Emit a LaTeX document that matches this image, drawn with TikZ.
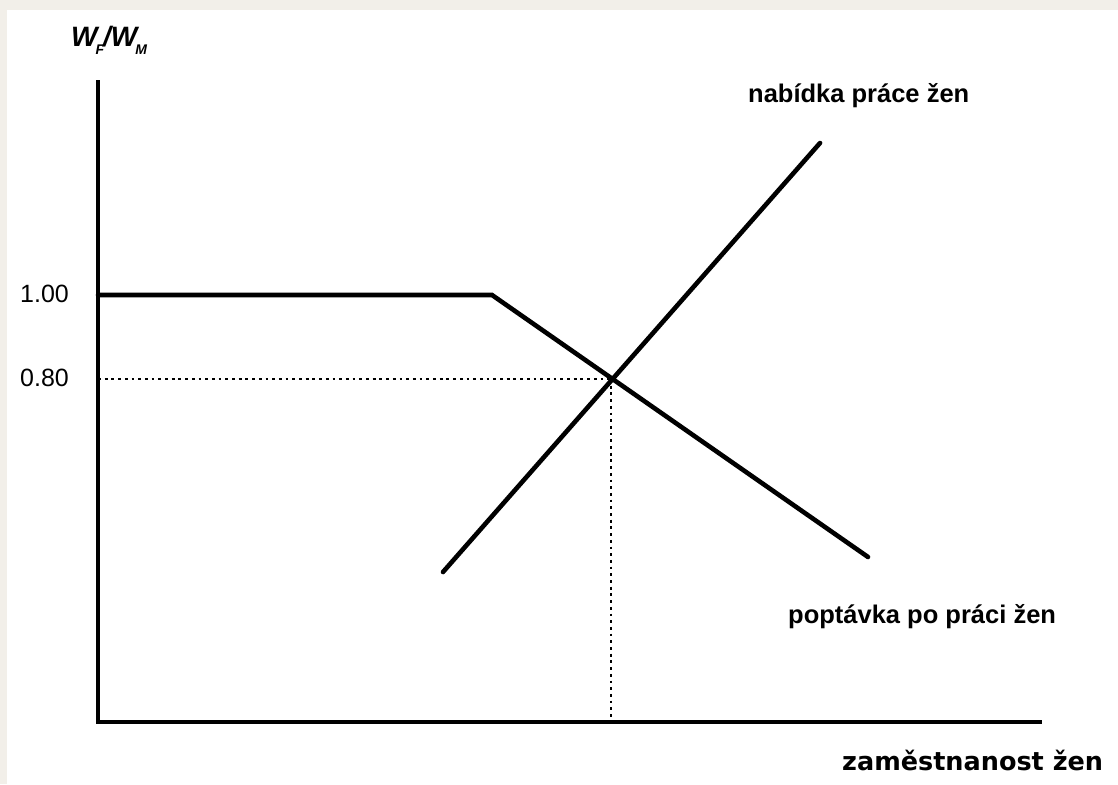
\documentclass[tikz,border=0pt]{standalone}
\usepackage{fontspec}
\setmainfont{Liberation Sans}
\newfontfamily\axisfont{DejaVu Sans}
\definecolor{bgbeige}{HTML}{F2EFE9}
\begin{document}
\begin{tikzpicture}[x=1pt,y=-1pt,
  axisline/.style={line width=3.2pt},
  curveline/.style={line width=4.6pt,line cap=round,line join=miter},
  guideline/.style={line width=2.8pt,dash pattern=on 2.8pt off 3.9pt},
  lbl/.style={inner sep=0pt,font=\fontsize{25.5}{30}\selectfont\bfseries},
  tick/.style={inner sep=0pt,font=\fontsize{25}{30}\selectfont}]
\useasboundingbox (0,0) rectangle (1118,784);
\fill[bgbeige] (0,0) rectangle (1118,784);
\fill[white] (7,10) rectangle (1118,784);
% coordinates
\coordinate (ytop) at (98,80);
\coordinate (origin) at (98,722);
\coordinate (xend) at (1042,722);
\coordinate (yone) at (98,295);
\coordinate (kink) at (492,295);
\coordinate (dend) at (868,557);
\coordinate (sstart) at (443,572);
\coordinate (send) at (820,143);
\coordinate (eq) at (611,379);
\coordinate (yeight) at (98,379);
\coordinate (xeq) at (611,722);
% guides
\draw[guideline] (yeight) -- (eq);
\draw[guideline] (eq) -- (xeq);
% axes
\draw[axisline] (ytop) -- (origin) -- (xend);
% curves
\draw[curveline] (yone) -- (kink) -- (dend);
\draw[curveline] (sstart) -- (send);
% labels
\node[tick,anchor=base west] (lone) at (20,302) {1.00};
\node[tick,anchor=base west] (leight) at (20,386) {0.80};
\node[anchor=base west,inner sep=0pt,font=\fontsize{28}{32}\selectfont\bfseries\itshape] (ylabel) at (71,47)
  {W\kern-2pt\raisebox{-8pt}{\fontsize{14}{16}\selectfont F}\kern-1pt/W\kern-2pt\raisebox{-8pt}{\fontsize{14}{16}\selectfont M}};
\node[lbl,anchor=base west] (supply) at (748,102) {nabídka práce žen};
\node[lbl,anchor=base west] (demand) at (788,623) {poptávka po práci žen};
\node[inner sep=0pt,anchor=base west,font=\fontsize{25.5}{30}\selectfont\axisfont\bfseries] (xlabel) at (842,770) {zaměstnanost žen};
\end{tikzpicture}
\end{document}
